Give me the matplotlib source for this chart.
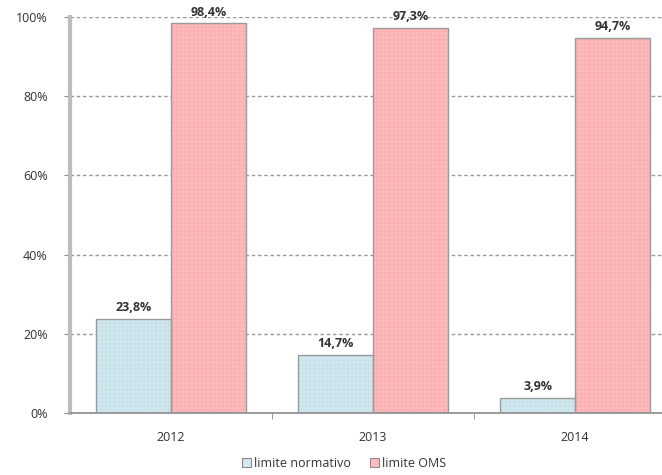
import matplotlib.pyplot as plt
from matplotlib.patches import Patch
import numpy as np

# data
years = ['2012', '2013', '2014']
normativo = [23.8, 14.7, 3.9]
oms = [98.4, 97.3, 94.7]
series_names = ['limite normativo', 'limite OMS']
yticks = [0, 20, 40, 60, 80, 100]

plt.rcParams['font.family'] = ['Open Sans', 'DejaVu Sans']

fig = plt.figure(figsize=(6.62, 4.75), dpi=100)
ax = fig.add_axes([70 / 662, 1 - 413 / 475, 606 / 662, 396 / 475])

x = np.arange(len(years))
w = 0.37
blue = '#d3e9ef'
pink = '#ffbcbe'

# fill with faint hatch, then outline on top
ax.bar(x - w / 2, normativo, w, color=blue, edgecolor='#c8e2e9',
       hatch='++++', linewidth=0, zorder=2)
ax.bar(x + w / 2, oms, w, color=pink, edgecolor='#fbb0b3',
       hatch='++++', linewidth=0, zorder=2)
ax.bar(x - w / 2, normativo, w, fill=False, edgecolor='#9a9a9a', linewidth=1, zorder=3)
ax.bar(x + w / 2, oms, w, fill=False, edgecolor='#9a9a9a', linewidth=1, zorder=3)

for xs, vals in ((x - w / 2, normativo), (x + w / 2, oms)):
    for xi, v in zip(xs, vals):
        ax.text(xi, v + 1.2, ('%.1f%%' % v).replace('.', ','), ha='center', va='bottom',
                fontsize=9, fontweight='bold', color='#333333')

ax.set_xlim(-0.5, 2.5)
ax.set_ylim(0, 100)
ax.set_yticks(yticks)
ax.set_yticklabels(['%d%%' % t for t in yticks])
ax.set_xticks(x)
ax.set_xticklabels(years)
ax.set_xticks([0.5, 1.5], minor=True)
ax.tick_params(axis='x', which='major', length=0, pad=13, labelsize=9, colors='#333333')
ax.tick_params(axis='x', which='minor', length=4, color='#8a8a8a', direction='out')
ax.tick_params(axis='y', length=4, color='#8a8a8a', labelsize=9, colors='#333333', pad=12)

ax.yaxis.grid(True, linestyle=(0, (2.5, 2)), color='#999999', linewidth=1, zorder=0)
ax.set_axisbelow(True)
for s in ['top', 'right']:
    ax.spines[s].set_visible(False)
ax.spines['left'].set_color('#bdbdbd')
ax.spines['left'].set_linewidth(3)
ax.spines['bottom'].set_color('#8a8a8a')
ax.spines['bottom'].set_linewidth(1.2)

handles = [Patch(facecolor=blue, edgecolor='#8a8a8a', linewidth=0.8),
           Patch(facecolor=pink, edgecolor='#8a8a8a', linewidth=0.8)]
fig.legend(handles, series_names, loc='center', bbox_to_anchor=(0.52, 0.025),
           ncol=2, frameon=False, fontsize=9, handlelength=0.7, handleheight=0.7,
           handletextpad=0.3, columnspacing=1.5, labelcolor='#333333')

fig.savefig('out.png', dpi=100)
